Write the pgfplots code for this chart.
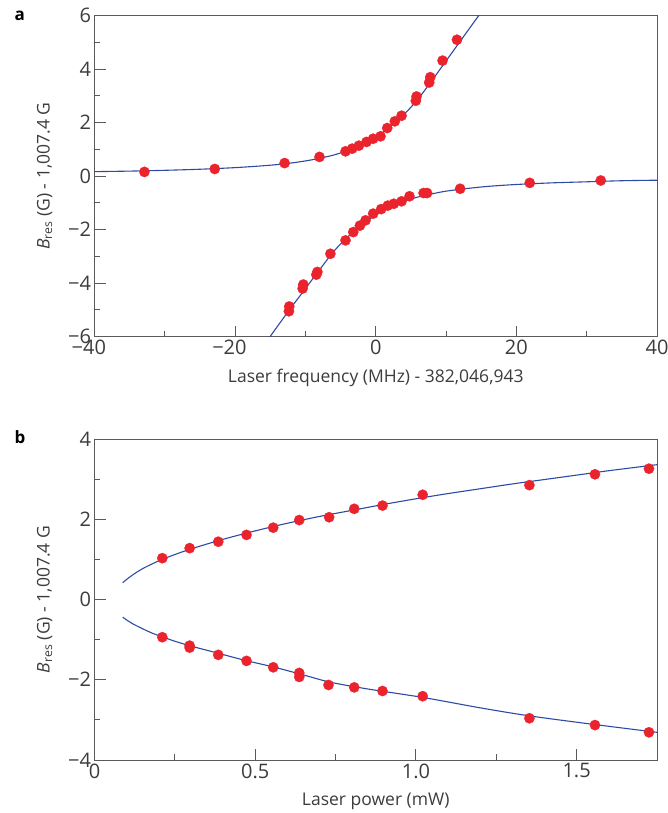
\documentclass[border=0pt]{standalone}
\usepackage{fontspec}
\setmainfont{Open Sans}
\usepackage{pgfplots}
\pgfplotsset{compat=1.18}
\definecolor{fitblue}{RGB}{45,75,165}
\definecolor{ptred}{RGB}{235,35,45}
\definecolor{txt}{RGB}{60,60,60}
\definecolor{framec}{RGB}{90,90,90}
\pgfplotsset{
 common/.style={
  scale only axis, width=562.5pt, height=321pt,
  axis line style={framec, line width=0.9pt},
  tick style={framec, line width=0.9pt},
  tick pos=left, tick align=inside,
  major tick length=11pt, minor tick length=5.5pt,
  ticklabel style={font=\fontsize{20}{20}\selectfont, text=txt},
  label style={font=\fontsize{17.5}{20}\selectfont, text=txt},
  xlabel style={at={(axis description cs:0.5,-0.1277)}, anchor=center},
  ylabel style={at={(axis description cs:-0.0888,0.5)}, anchor=center},
 },
 pts/.style={only marks, mark=*, mark size=5.2pt, mark options={ptred, line width=0.2pt}},
 fit/.style={fitblue, line width=1.1pt, smooth, no marks},
}
\begin{document}
\begin{tikzpicture}
\useasboundingbox (0,0) rectangle (667pt,813pt);
\node[font=\fontsize{17}{17}\selectfont\bfseries, anchor=base west] at (11pt,792pt) {a};
\node[font=\fontsize{17}{17}\selectfont\bfseries, anchor=base west] at (11pt,369pt) {b};
% ---------------- panel a
\begin{axis}[common,
  at={(94.5pt,476.3pt)}, anchor=south west,
  xmin=-40, xmax=40, ymin=-6, ymax=6,
  xtick={-40,-20,0,20,40}, xticklabels={\llap{−}40,\llap{−}20,0,20,40},
  minor xtick={-30,-10,10,30},
  ytick={-6,-4,-2,0,2,4,6}, yticklabels={−6,−4,−2,0,2,4,6},
  minor ytick={-5,-3,-1,1,3,5},
  xlabel={Laser frequency (MHz) - 382,046,943},
  ylabel={\textit{B}\textsubscript{res} (G) - 1,007.4 G},
]
\addplot[pts] coordinates {
(-32.9,0.16) (-22.9,0.27) (-12.96,0.49) (-8.0,0.72) (-4.30,0.93) (-3.35,1.03)
(-2.40,1.14) (-1.31,1.28) (-0.37,1.40) (0.68,1.49) (1.63,1.80) (2.71,2.05)
(3.67,2.26) (5.7,2.82) (5.8,2.98) (7.6,3.50) (7.75,3.70) (9.5,4.32) (11.55,5.10)
};
\addplot[pts] coordinates {
(-12.35,-5.05) (-12.3,-4.87) (-10.4,-4.20) (-10.3,-4.05) (-8.45,-3.68) (-8.3,-3.58)
(-6.45,-2.90) (-4.30,-2.40) (-3.2,-2.09) (-2.26,-1.85) (-1.45,-1.65) (-0.37,-1.40)
(0.77,-1.23) (1.71,-1.10) (2.57,-1.03) (3.67,-0.94) (4.8,-0.75) (6.8,-0.63)
(7.3,-0.63) (12.0,-0.47) (21.9,-0.25) (32.0,-0.16)
};
\addplot[fit] coordinates {
(-40,0.17) (-35,0.19) (-30,0.22) (-25,0.26) (-20,0.32) (-16,0.39) (-13,0.46)
(-10,0.57) (-8,0.67) (-6,0.79) (-4,0.96) (-2,1.19) (0,1.47) (2,1.83) (4,2.30)
(6,2.88) (8,3.58) (10,4.31) (12,5.04) (14,5.77) (15,6.13)
};
\addplot[fit] coordinates {
(-15.5,-6.17) (-14,-5.62) (-12,-4.90) (-10,-4.20) (-8,-3.50) (-6,-2.82) (-4,-2.27)
(-2,-1.82) (0,-1.45) (2,-1.17) (4,-0.94) (6,-0.78) (8,-0.66) (10,-0.56)
(13,-0.46) (16,-0.38) (20,-0.31) (25,-0.25) (30,-0.21) (35,-0.17) (40,-0.15)
};
\end{axis}
% ---------------- panel b
\begin{axis}[common,
  at={(94.5pt,53pt)}, anchor=south west,
  xmin=0, xmax=1.75, ymin=-4, ymax=4,
  xtick={0,0.5,1,1.5}, xticklabels={0,0.5,1.0,1.5},
  minor xtick={0.25,0.75,1.25},
  ytick={-4,-2,0,2,4}, yticklabels={−4,−2,0,2,4},
  minor ytick={-3,-1,1,3},
  xlabel={Laser power (mW)},
  ylabel={\textit{B}\textsubscript{res} (G) - 1,007.4 G},
]
\addplot[pts] coordinates {
(0.211,1.03) (0.296,1.28) (0.385,1.44) (0.473,1.61) (0.556,1.79) (0.637,1.98)
(0.730,2.05) (0.808,2.26) (0.896,2.34) (1.021,2.61) (1.353,2.85) (1.557,3.12) (1.725,3.26)
};
\addplot[pts] coordinates {
(0.211,-0.94) (0.296,-1.15) (0.296,-1.20) (0.385,-1.38) (0.473,-1.53) (0.556,-1.69)
(0.637,-1.83) (0.637,-1.93) (0.728,-2.13) (0.808,-2.19) (0.896,-2.28) (1.021,-2.41)
(1.353,-2.96) (1.557,-3.13) (1.725,-3.31)
};
\addplot[fit] coordinates {
(0.088,0.42) (0.10,0.50) (0.12,0.62) (0.15,0.77) (0.18,0.89) (0.211,1.00) (0.25,1.12)
(0.30,1.26) (0.40,1.50) (0.50,1.71) (0.60,1.90) (0.70,2.07) (0.80,2.22) (0.90,2.37)
(1.00,2.51) (1.10,2.64) (1.20,2.76) (1.30,2.88) (1.40,2.99) (1.50,3.10) (1.60,3.21)
(1.70,3.31) (1.75,3.36)
};
\addplot[fit] coordinates {
(0.088,-0.44) (0.10,-0.51) (0.12,-0.61) (0.15,-0.73) (0.18,-0.84) (0.211,-0.93)
(0.25,-1.04) (0.30,-1.16) (0.385,-1.34) (0.47,-1.52) (0.556,-1.68) (0.65,-1.88)
(0.733,-2.06) (0.85,-2.23) (1.021,-2.44) (1.2,-2.70) (1.353,-2.90) (1.55,-3.11) (1.75,-3.31)
};
\end{axis}
\end{tikzpicture}
\end{document}
